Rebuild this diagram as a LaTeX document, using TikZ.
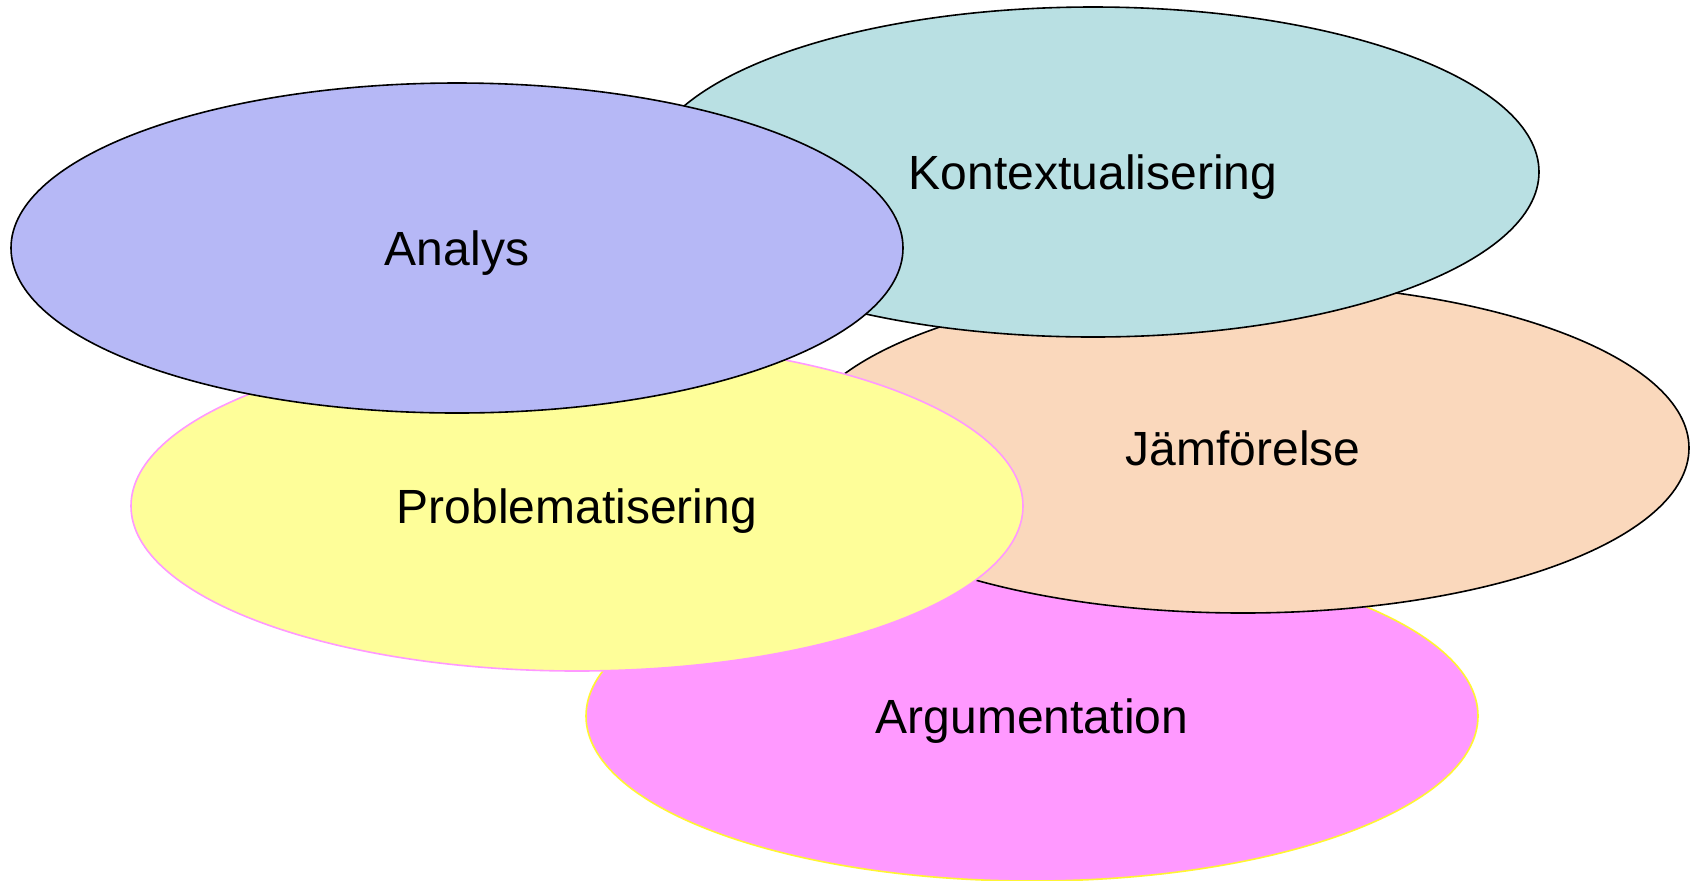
\documentclass[tikz,border=0pt]{standalone}
\usepackage{fontspec}
\setmainfont{Liberation Sans}
\usetikzlibrary{shapes.geometric}
\definecolor{analyscol}{HTML}{B6B8F6}
\definecolor{kontextcol}{HTML}{B9E0E3}
\definecolor{jamforcol}{HTML}{FAD8BC}
\definecolor{problemcol}{HTML}{FEFE99}
\definecolor{argcol}{HTML}{FF99FF}
\begin{document}
\begin{tikzpicture}[x=0.5pt, y=-0.5pt,
        blob/.style={ellipse, minimum width=446pt, minimum height=165pt,
            inner sep=0pt, text depth=0pt, line width=0.8pt,
            font=\fontsize{24}{28}\selectfont}]
        \useasboundingbox (0, 0) rectangle (1694, 880);
        \node[blob, draw=yellow!80, fill=argcol] (argument) at (1032, 716) {Argumentation};
        \node[blob, draw=black, fill=jamforcol] (jamfor) at (1243, 448) {Jämförelse};
        \node[blob, draw=black, fill=kontextcol] (kontext) at (1093, 172) {Kontextualisering};
        \node[blob, draw=argcol, fill=problemcol] (problem) at (577, 506) {Problematisering};
        \node[blob, draw=black, fill=analyscol] (analys) at (457, 248) {Analys};
    \end{tikzpicture}
\end{document}
